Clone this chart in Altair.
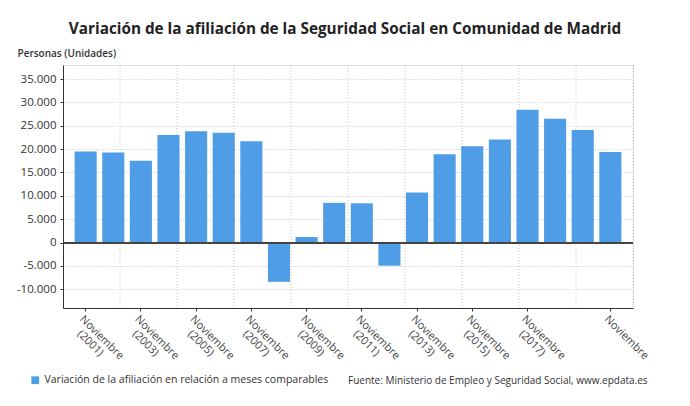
import altair as alt
import pandas as pd

years = list(range(2001, 2021))
values = [19500, 19300, 17500, 23000, 23800, 23500, 21700, -8400, 1200, 8500,
          8400, -4950, 10700, 18900, 20600, 22050, 28400, 26500, 24100, 19400]
tick_years = [2001, 2003, 2005, 2007, 2009, 2011, 2013, 2015, 2017, 2020]
y_ticks = [-10000, -5000, 0, 5000, 10000, 15000, 20000, 25000, 30000, 35000]
grid_positions = list(range(1, 11))

series_name = "Variación de la afiliación en relación a meses comparables"
source_text = "Fuente: Ministerio de Empleo y Seguridad Social, www.epdata.es"
title_text = "Variación de la afiliación de la Seguridad Social en Comunidad de Madrid"

df = pd.DataFrame({"year": years, "value": values, "serie": series_name})
grid_df = pd.DataFrame({"g": grid_positions})

FONT = "Open Sans"
W, H = 570, 243
NB = "\u200b\u00a0\u00a0\u00a0"

y_scale = alt.Scale(domain=[-14000, 38000], nice=False, zero=False)
y_axis = alt.Axis(values=y_ticks, title="Personas (Unidades)",
                  titleAngle=0, titleAlign="left", titleBaseline="bottom",
                  titleX=-46, titleY=-7, titleFont=FONT, titleFontSize=10,
                  titleFontWeight=600, titleColor="#333",
                  labelExpr="replace(replace(format(datum.value, ','), ',', '.'), '\u2212', '-')",
                  labelFont=FONT, labelFontSize=11.5, labelColor="#333",
                  labelOverlap=False,
                  labelPadding=4, tickSize=3, tickColor="#333",
                  domainColor="#333", domainWidth=1,
                  grid=True, gridColor="#c4c4c4", gridDash=[1, 2])

bars = alt.Chart(df).mark_bar(color="#4e9de6").encode(
    x=alt.X("year:O",
            scale=alt.Scale(paddingInner=0.2, paddingOuter=0.42),
            axis=alt.Axis(values=tick_years, title=None, labelAngle=45,
                          labelAlign="left", labelBaseline="top",
                          labelExpr="datum.value == 2020 ? 'Noviembre' : ['Noviembre', '" + NB + "(' + datum.value + ')']",
                          labelFont=FONT, labelFontSize=11, labelColor="#444",
                          labelLineHeight=12, labelOverlap=False,
                          domainColor="#333", domainWidth=1.2,
                          tickColor="#333", tickSize=3, labelPadding=2,
                          grid=False)),
    y=alt.Y("value:Q", scale=y_scale, axis=y_axis),
    color=alt.Color("serie:N", scale=alt.Scale(range=["#4e9de6"]),
                    legend=alt.Legend(title=None, orient="none", legendX=-33, legendY=310,
                                      symbolType="square", symbolSize=60,
                                      symbolStrokeWidth=0,
                                      labelFont=FONT, labelFontSize=10.5,
                                      labelColor="#333", labelLimit=400)),
)

vgrid = alt.Chart(grid_df).mark_rule(color="#c4c4c4", strokeDash=[1, 2]).encode(
    x=alt.X("g:Q", scale=alt.Scale(domain=[0, 10], nice=False), axis=None)
)

zero = alt.Chart(df).mark_rule(color="#444", strokeWidth=1.2).encode(
    y=alt.datum(0, scale=y_scale, axis=y_axis)
)

source = alt.Chart(pd.DataFrame({"t": [source_text]})).mark_text(
    font=FONT, fontSize=10, color="#333", align="left", baseline="middle"
).encode(text="t:N", x=alt.value(285), y=alt.value(316))

chart = alt.layer(vgrid, bars, zero, source).resolve_scale(x="independent").properties(
    width=W, height=H,
    autosize=alt.AutoSizeParams(type="none"),
    padding={"left": 55, "top": 57, "right": 49, "bottom": 90},
    title=alt.TitleParams(title_text, font=FONT, fontSize=15.3, fontWeight="bold",
                          color="#222", anchor="middle", frame="group", dx=-3, offset=11),
).configure_view(stroke=None).configure(background="white")

chart.save("out.html", embed_options={"renderer": "svg", "actions": False})
